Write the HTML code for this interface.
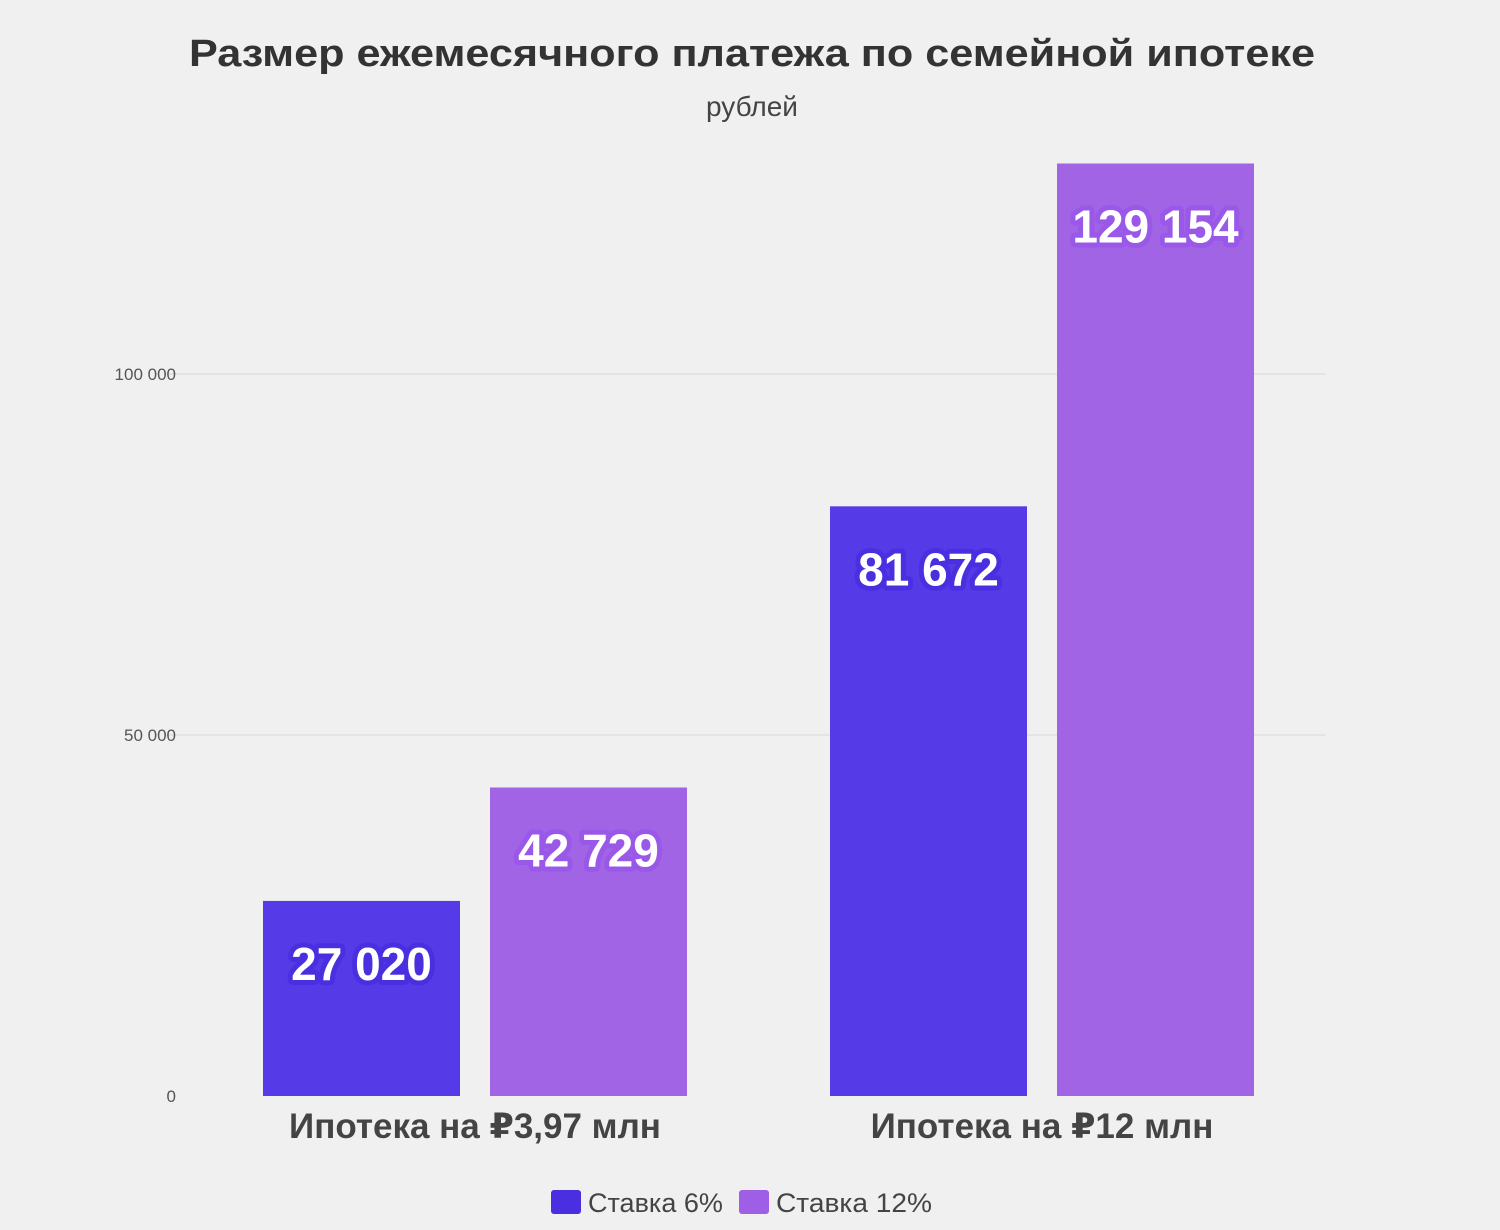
<!DOCTYPE html>
<html><head><meta charset="utf-8"><style>
body{margin:0;background:#f0f0f0;}
svg{display:block;font-family:"Liberation Sans","DejaVu Sans",sans-serif;}
</style></head><body>
<svg id="chart" width="1500" height="1230" viewBox="0 0 1500 1230">
<rect width="1500" height="1230" fill="#f0f0f0"/>
<text x="752" y="66" text-anchor="middle" font-size="38" font-weight="bold" fill="#333" textLength="1126" lengthAdjust="spacingAndGlyphs">Размер ежемесячного платежа по семейной ипотеке</text>
<text x="752" y="116" text-anchor="middle" font-size="28" fill="#444">рублей</text>
<g id="grid"></g><g id="bars"></g><g id="labels"></g>
<g>
<rect x="551" y="1190" width="30" height="24" rx="3" fill="#4a2fe0"/>
<text x="588" y="1212" font-size="27" fill="#444">Ставка 6%</text>
<rect x="739" y="1190" width="30" height="24" rx="3" fill="#9f5ee6"/>
<text x="776" y="1212" font-size="27" fill="#444" textLength="156" lengthAdjust="spacingAndGlyphs">Ставка 12%</text>
</g>
</svg>
<script>
const categories = ["Ипотека на ₽3,97 млн", "Ипотека на ₽12 млн"];
const seriesNames = ["Ставка 6%", "Ставка 12%"];
const rate6 = [27020, 81672];
const rate12 = [42729, 129154];
const yTicks = [0, 50000, 100000];
const tickLabels = ["0", "50 000", "100 000"];

const NS = "http://www.w3.org/2000/svg";
const plotL = 191.5, plotR = 1325.5, y0 = 1096, pxPer = 361 / 50000;
const y = v => y0 - v * pxPer;
const band = (plotR - plotL) / categories.length;
const xc = i => plotL + band * (i + 0.5);
function mk(tag, attrs, parent) { const e = document.createElementNS(NS, tag); for (const k in attrs) e.setAttribute(k, attrs[k]); parent.appendChild(e); return e; }
const grid = document.getElementById('grid'), bars = document.getElementById('bars'), labels = document.getElementById('labels');
yTicks.forEach((t, i) => {
  if (t > 0) { const l = mk('line', {x1: 165, x2: plotR, y1: y(t), y2: y(t), stroke: '#d8d8d8', 'stroke-width': 1}, grid);
    
     }
  const tx = mk('text', {x: 176, y: y(t) + 6, 'text-anchor': 'end', 'font-size': 17, fill: '#555'}, grid);
  tx.textContent = tickLabels[i];
  
  
});
const series = [rate6, rate12], fills = ['#543be7', '#a064e5'], strokes = ['#4a2fe0', '#9a58e8'];
const bw = 197, gap = 30;
categories.forEach((c, i) => {
  series.forEach((s, j) => {
    const x = xc(i) - bw - gap / 2 + j * (bw + gap);
    const r = mk('rect', {x: x, y: y(s[i]), width: bw, height: y0 - y(s[i]), fill: fills[j]}, bars);
    
    
    const v = s[i].toLocaleString('ru-RU').replace(/\s/g, ' ');
    const t = mk('text', {x: x + bw / 2, y: y(s[i]) + 79, 'text-anchor': 'middle', 'font-size': 46, 'font-weight': 'bold', fill: '#fff', stroke: strokes[j], 'stroke-width': 10, 'paint-order': 'stroke', 'stroke-linejoin': 'round'}, labels);
    t.textContent = v;
    
    
  });
  const ct = mk('text', {x: xc(i), y: 1138, 'text-anchor': 'middle', 'font-size': 35, 'font-weight': 'bold', fill: '#444'}, labels);
  ct.textContent = c;
  
  
});
</script>
</body></html>
